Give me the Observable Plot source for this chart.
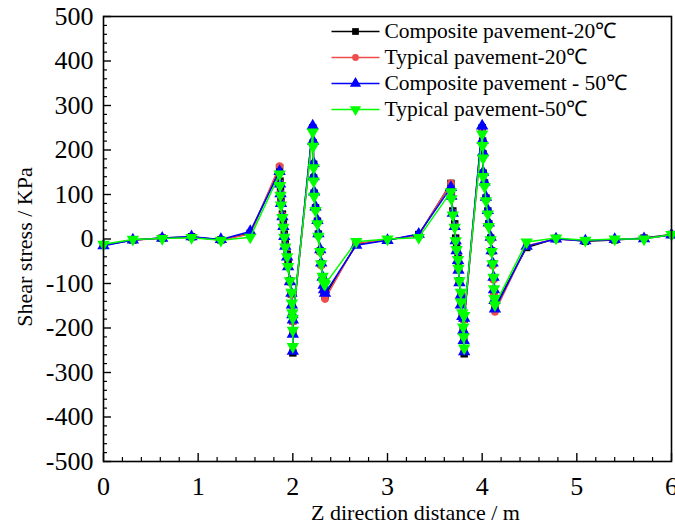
<!DOCTYPE html>
<html><head><meta charset="utf-8">
<script src="https://cdn.jsdelivr.net/npm/d3@7"></script>
<script src="https://cdn.jsdelivr.net/npm/@observablehq/plot@0.6"></script>
<style>body{margin:0;background:#fff} svg{display:block}</style>
</head><body><div id="chart"></div>
<script>
const seriesNames = ["Composite pavement-20\u2103", "Typical pavement-20\u2103", "Composite pavement - 50\u2103", "Typical pavement-50\u2103"];
const seriesColors = ["#000000", "#f04c4c", "#0000ff", "#00ff00"];
const xTicks = [0, 1, 2, 3, 4, 5, 6];
const yTicks = [-500, -400, -300, -200, -100, 0, 100, 200, 300, 400, 500];

const distance = [0, 0.31, 0.62, 0.93, 1.24, 1.55,
  1.86, 1.865, 1.87, 1.875, 1.89, 1.90, 1.91, 1.92, 1.94, 1.95, 1.97, 1.985, 1.99, 1.995, 2.0, 2.0, 2.0,
  2.21, 2.215, 2.22, 2.22, 2.225, 2.24, 2.26, 2.27, 2.29, 2.30, 2.315, 2.325, 2.33, 2.34,
  2.67, 3.00, 3.33,
  3.67, 3.675, 3.69, 3.71, 3.72, 3.73, 3.745, 3.75, 3.76, 3.775, 3.775, 3.79, 3.80, 3.805, 3.81, 3.81,
  4.0, 4.005, 4.01, 4.01, 4.025, 4.04, 4.06, 4.07, 4.09, 4.10, 4.11, 4.12, 4.125, 4.13, 4.135,
  4.47, 4.78, 5.09, 5.40, 5.71, 6.00];

const composite20 = [-14, -2, 2, 5, -2, 13,
  160, 130, 108, 85, 56, 34, 11, -11, -34, -56, -94, -124, -146, -169, -210, -256, -184,
  250, 216, 168, 137, 103, 70, 40, 11, -27, -56, -88, -106, -118, -128,
  -12, -2, 10,
  125, 101, 63, 34, 2, -20, -43, -65, -94, -121, -144, -169, -200, -222, -258, -180,
  250, 220, 191, 148, 126, 92, 63, 34, 2, -27, -56, -88, -117, -140, -152,
  -19, 1, -5, -2, 2, 10];
const typical20 = [-13, -2, 1, 4, -2, 11,
  164, 126, 104, 82, 54, 30, 8, -14, -38, -60, -98, -126, -150, -172, -212, -250, -186,
  245, 212, 165, 134, 100, 66, 36, 8, -30, -60, -92, -110, -124, -135,
  -10, -1, 8,
  126, 98, 60, 30, -2, -24, -46, -68, -96, -124, -146, -172, -204, -226, -250, -182,
  240, 214, 186, 144, 122, 88, 58, 30, -2, -30, -60, -92, -122, -146, -164,
  -15, 0, -4, -1, 1, 9];
const composite50 = [-15, -2, 2, 5, -1, 17,
  152, 124, 102, 80, 50, 28, 6, -16, -40, -62, -96, -122, -148, -170, -214, -252, -182,
  254, 220, 170, 140, 106, 72, 42, 12, -24, -54, -86, -104, -114, -122,
  -14, -3, 11,
  116, 96, 58, 28, -4, -26, -48, -70, -98, -126, -148, -174, -206, -228, -253, -178,
  254, 222, 194, 150, 128, 94, 64, 36, 4, -26, -54, -86, -114, -138, -157,
  -16, 0, -4, -1, 1, 9];
const typical50 = [-12, -1, 1, 3, -3, 4,
  146, 120, 98, 76, 48, 26, 4, -18, -40, -62, -94, -120, -144, -166, -205, -242, -178,
  240, 208, 160, 130, 96, 64, 34, 6, -28, -56, -84, -96, -100, -102,
  -6, 0, 3,
  106, 90, 54, 26, -4, -24, -46, -66, -94, -120, -142, -166, -198, -220, -245, -172,
  236, 210, 182, 140, 118, 86, 56, 28, -2, -28, -56, -86, -112, -134, -148,
  -7, 2, -3, 0, 0, 10];

const seriesValues = [composite20, typical20, composite50, typical50];
const seriesSymbols = ["square", "circle", "triangle", "triangle"];
const seriesRotate = [0, 0, 0, 180];
const seriesR = [4.2, 3.8, 4.6, 4.6];

const W = 675, H = 526, ML = 103, MR = 4, MT = 16, MB = 65;
const plotW = W - ML - MR, plotH = H - MT - MB;
const FONT = "'Liberation Serif', 'Times New Roman', serif";

const xMinor = d3.range(0, 6.0001, 0.2).filter(v => Math.abs(v - Math.round(v)) > 1e-6);
const yMinor = d3.range(-500, 500.001, 20).filter(v => v % 100 !== 0);

const hline = {draw(ctx) { ctx.moveTo(-24, 0); ctx.lineTo(24, 0); }};

const marks = [];
marks.push(Plot.tickX(xTicks, {insetTop: plotH - 8, stroke: "black", strokeWidth: 1.4}));
marks.push(Plot.tickX(xMinor, {insetTop: plotH - 4, stroke: "black", strokeWidth: 1.2}));
marks.push(Plot.tickY(yTicks, {insetRight: plotW - 8, stroke: "black", strokeWidth: 1.4}));
marks.push(Plot.tickY(yMinor, {insetRight: plotW - 4, stroke: "black", strokeWidth: 1.2}));

seriesValues.forEach((vals, i) => {
  const data = distance.map((d, j) => ({x: d, y: vals[j]}));
  marks.push(Plot.line(data, {x: "x", y: "y", stroke: seriesColors[i], strokeWidth: 1.5}));
  marks.push(Plot.dot(data, {x: "x", y: "y", symbol: seriesSymbols[i], rotate: seriesRotate[i], r: seriesR[i], fill: seriesColors[i], stroke: "none"}));
});

seriesNames.forEach((name, i) => {
  const dy = 15 + 26 * i;
  marks.push(Plot.dot([name], {frameAnchor: "top-left", dx: 252, dy, symbol: hline, stroke: seriesColors[i], strokeWidth: 1.5, fill: "none"}));
  marks.push(Plot.dot([name], {frameAnchor: "top-left", dx: 252, dy, symbol: seriesSymbols[i], rotate: seriesRotate[i], r: seriesR[i] - 0.4, fill: seriesColors[i], stroke: "none"}));
  marks.push(Plot.text([name], {frameAnchor: "top-left", dx: 281, dy, text: d => d, textAnchor: "start", lineAnchor: "middle", fontSize: 21.5, fill: "black"}));
});

marks.push(Plot.axisX(xTicks, {tickSize: 0, tickPadding: 15, fontSize: 26, tickFormat: d => String(d), label: null}));
marks.push(Plot.axisY(yTicks, {tickSize: 0, tickPadding: 10, fontSize: 26, tickFormat: d => String(d), label: null}));
marks.push(Plot.text(["Z direction distance / m"], {frameAnchor: "bottom", dx: 28, dy: 51, text: d => d, fontSize: 22, textAnchor: "middle", lineAnchor: "middle", fill: "black"}));
marks.push(Plot.text(["Shear stress / KPa"], {frameAnchor: "left", dx: -79, dy: 8, rotate: -90, text: d => d, fontSize: 22, textAnchor: "middle", lineAnchor: "middle", fill: "black"}));
marks.push(Plot.frame({stroke: "black", strokeWidth: 1.6}));

const chart = Plot.plot({
  width: W, height: H,
  marginLeft: ML, marginRight: MR, marginTop: MT, marginBottom: MB,
  x: {domain: [0, 6]},
  y: {domain: [-500, 500]},
  style: {fontFamily: FONT, background: "white", color: "black", overflow: "visible"},
  marks
});
document.getElementById("chart").appendChild(chart);
</script>
</body></html>
